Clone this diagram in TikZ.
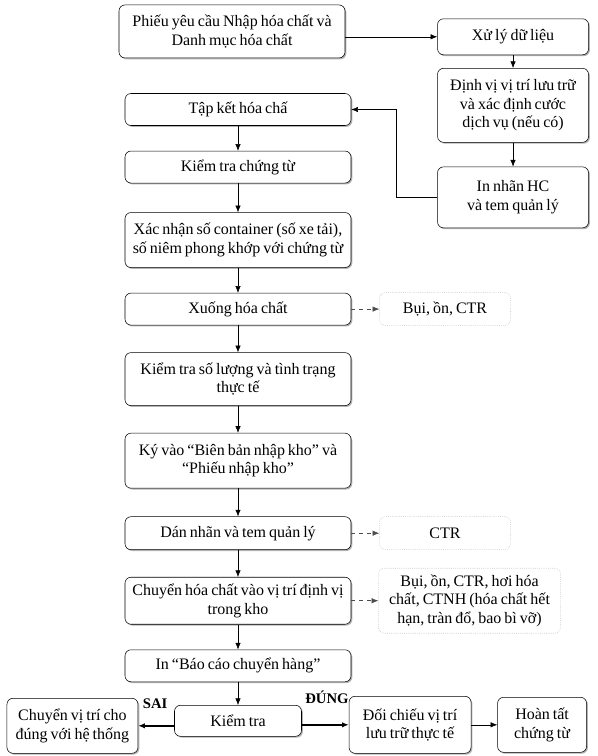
\documentclass[tikz,border=0pt]{standalone}
\usepackage{fontspec}
\setmainfont[WordSpace=0.75]{Liberation Serif}
\usetikzlibrary{positioning,shadows,arrows.meta}

\begin{document}
\begin{tikzpicture}[
    font=\fontsize{12}{13.8}\selectfont,
    box/.style={rectangle, rounded corners=4.5pt, draw=black, fill=white, align=center, inner sep=2pt,
        drop shadow={shadow xshift=1pt, shadow yshift=-1pt, fill=black!50, opacity=0.6}},
    side/.style={rectangle, rounded corners=4.5pt, draw=gray!60, densely dotted, fill=white, align=center, inner sep=2pt},
    arr/.style={-{Latex[length=5pt,width=4pt]}},
    dasharr/.style={-{Latex[length=5pt,width=4pt]}, dashed, draw=black!70},
    lbl/.style={font=\fontsize{11}{12}\selectfont\bfseries, inner sep=0pt}
]
    \useasboundingbox (0,0) rectangle (448.5pt,-567pt);

    % Nodes
    \node[box, minimum width=169.5pt, minimum height=39.75pt] (phieu) at (174pt,-23.6pt) {Phiếu yêu cầu Nhập hóa chất và\\Danh mục hóa chất};

    \node[box, minimum width=113.25pt, minimum height=27pt] (xuly) [right=69pt of phieu, yshift=-4pt] {Xử lý dữ liệu};
    \node[box, minimum width=113.25pt, minimum height=55.5pt] (dinhvi) [below=9.75pt of xuly] {Định vị vị trí lưu trữ\\và xác định cước\\dịch vụ (nếu có)};
    \node[box, minimum width=113.25pt, minimum height=45.75pt] (innhan) [below=18pt of dinhvi] {In nhãn HC\\và tem quản lý};

    \node[box, minimum width=169.5pt, minimum height=24pt] (tapket) [below=26.25pt of phieu, xshift=4.5pt] {Tập kết hóa chấ};
    \node[box, minimum width=169.5pt, minimum height=24pt] (ktct) [below=18.75pt of tapket] {Kiểm tra chứng từ};
    \node[box, minimum width=169.5pt, minimum height=41.25pt] (xacnhan) [below=21.75pt of ktct] {Xác nhận số container (số xe tải),\\số niêm phong khớp với chứng từ};
    \node[box, minimum width=169.5pt, minimum height=24pt] (xuong) [below=18.75pt of xacnhan] {Xuống hóa chất};
    \node[side, minimum width=98.25pt, minimum height=24.75pt] (bui1) [right=21pt of xuong] {Bụi, ồn, CTR};
    \node[box, minimum width=169.5pt, minimum height=39.75pt] (ktsl) [below=20.25pt of xuong] {Kiểm tra số lượng và tình trạng\\thực tế};
    \node[box, minimum width=169.5pt, minimum height=41.25pt] (kyvao) [below=20.25pt of ktsl] {Ký vào “Biên bản nhập kho” và\\“Phiếu nhập kho”};
    \node[box, minimum width=169.5pt, minimum height=24.75pt] (dannhan) [below=21pt of kyvao] {Dán nhãn và tem quản lý};
    \node[side, minimum width=98.25pt, minimum height=24.75pt] (ctr) [right=21pt of dannhan] {CTR};
    \node[box, minimum width=169.5pt, minimum height=35.25pt] (chuyen) [below=20.25pt of dannhan] {Chuyển hóa chất vào vị trí định vị\\trong kho};
    \node[side, minimum width=136.5pt, minimum height=48.75pt] (bui2) [right=20.25pt of chuyen] {Bụi, ồn, CTR, hơi hóa\\chất, CTNH (hóa chất hết\\hạn, tràn đổ, bao bì vỡ)};
    \node[box, minimum width=169.5pt, minimum height=24pt] (inbc) [below=18.75pt of chuyen] {In “Báo cáo chuyển hàng”};

    \node[box, minimum width=95.25pt, minimum height=23.25pt] (kiemtra) [below=17.25pt of inbc] {Kiểm tra};
    \node[box, minimum width=98.25pt, minimum height=41.25pt] (chuyenvt) [left=27pt of kiemtra, yshift=-3.75pt] {Chuyển vị trí cho\\đúng với hệ thống};
    \node[box, minimum width=91.5pt, minimum height=42.75pt] (doichieu) [right=35.25pt of kiemtra, yshift=-3pt] {Đối chiếu vị trí\\lưu trữ thực tế};
    \node[box, minimum width=66.75pt, minimum height=41.25pt] (hoantat) [right=19.5pt of doichieu] {Hoàn tất\\chứng từ};

    \node[lbl, anchor=south east] (sai) at ([xshift=-5pt,yshift=-3pt]kiemtra.north west) {SAI};
    \node[lbl, anchor=south east] (dung) at ([yshift=-6pt]doichieu.north west) {ĐÚNG};

    % Arrows
    \draw[arr] (phieu.east |- xuly.west) -- (xuly.west);
    \draw[arr] (xuly) -- (dinhvi);
    \draw[arr] (dinhvi) -- (innhan);
    \draw[arr] (innhan.west) -- ++(-30.75pt,0) |- (tapket.east);

    \draw[arr] (tapket) -- (ktct);
    \draw[arr] (ktct) -- (xacnhan);
    \draw[arr] (xacnhan) -- (xuong);
    \draw[arr] (xuong) -- (ktsl);
    \draw[arr] (ktsl) -- (kyvao);
    \draw[arr] (kyvao) -- (dannhan);
    \draw[arr] (dannhan) -- (chuyen);
    \draw[arr] (chuyen) -- (inbc);
    \draw[arr] (inbc) -- (kiemtra);

    \draw[dasharr] (xuong) -- (bui1);
    \draw[dasharr] (dannhan) -- (ctr);
    \draw[dasharr] (chuyen) -- (bui2);

    \draw[arr, line width=1.3pt] (kiemtra.west |- chuyenvt.east) -- (chuyenvt.east);
    \draw[arr, line width=1.3pt] (kiemtra.east |- doichieu.west) -- (doichieu.west);
    \draw[arr] (doichieu) -- (hoantat);
\end{tikzpicture}
\end{document}
